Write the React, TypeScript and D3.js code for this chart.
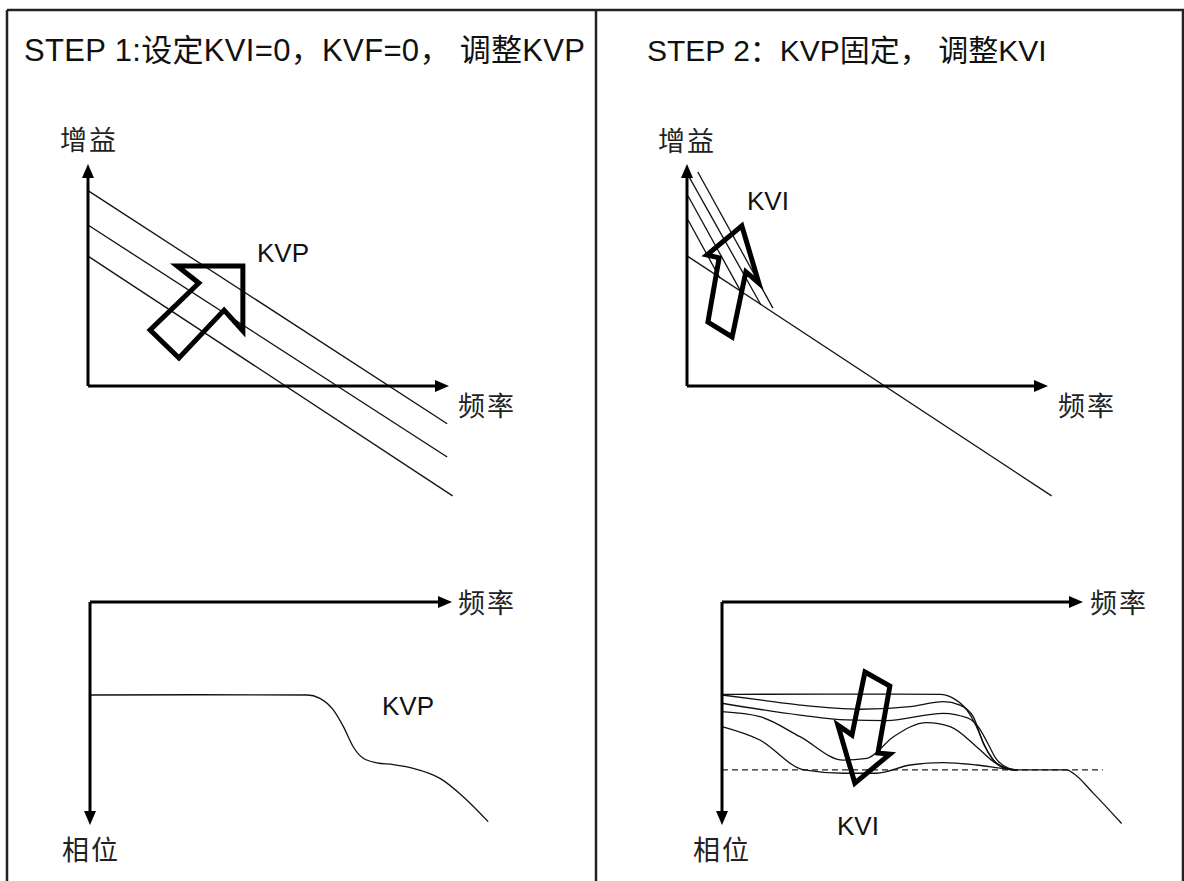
import React from 'react';
import * as d3 from 'd3';

type Pt = [number, number];

// ---- STEP 1: gain (freq, gain) ----
const kvpGainLines: Pt[][] = [
  [[0, 88], [99.5, -17]],
  [[0, 72.5], [99.5, -32]],
  [[0, 58.5], [101, -49.5]],
];
const kvpGainArrow: Pt[] = [
  [24.7, 54.1], [42.9, 54.1], [42.9, 24.8], [37.7, 34.2],
  [25.2, 12.6], [17.2, 25.2], [30.7, 46.4],
];

// ---- STEP 1: phase (freq, phase lag) ----
const kvpPhase: Pt[] = [
  [0, 41.7], [30, 41.6], [60, 41.7], [63.5, 43.2], [67.2, 48.4], [70, 55.9],
  [72.7, 64.9], [75.5, 70.1], [79.2, 72.1], [83.8, 72.9], [89.3, 74.6],
  [96.7, 79.1], [103.1, 87.3], [110, 98.5],
];

// ---- STEP 2: gain ----
const kviBaseGain: Pt[] = [[0, 58.6], [101, -49.5]];
const kviGainLines: Pt[][] = [
  [[3, 96.4], [23.8, 35.1]],
  [[0.3, 95], [20.5, 36.5]],
  [[0.3, 85.6], [15, 42.3]],
  [[0.3, 74.8], [9.1, 48.6]],
];
const kviGainArrow: Pt[] = [
  [15.2, 72.1], [19.9, 46.4], [16.3, 51.4], [12.5, 22.1],
  [5.8, 28.8], [8.9, 57.7], [5.5, 59.0],
];

// ---- STEP 2: phase ----
const kviPhaseLines: Pt[][] = [
  [[0, 41.4], [30, 41.3], [60.4, 41.4], [64.1, 43.2], [67.8, 48.4], [70.5, 55.9],
    [72.9, 64.9], [75.2, 70.9], [78.9, 74.6], [81, 75.3]],
  [[0, 41.7], [10.5, 43.9], [21.6, 46.2], [38.2, 48.1], [52.1, 46.9], [61.3, 44.7],
    [65.9, 46.2], [69.6, 51.4], [72.4, 63.4], [75.2, 70.9], [78.9, 74.9], [81, 75.3]],
  [[0, 45.4], [21.6, 50.7], [34.5, 52.9], [45.6, 53.2], [61.3, 49.9], [68, 52],
    [71, 56], [73.5, 63], [76, 70.5], [79.5, 74.6], [81.5, 75.3]],
  [[0, 49.2], [10.5, 51.4], [21.6, 60.4], [33.6, 70.9], [40.1, 70.1], [47.5, 60.4],
    [56.7, 54.1], [63.2, 55.9], [70.5, 64.9], [75.2, 71.6], [79.5, 75], [82, 75.3]],
  [[0, 55.9], [10.5, 61.9], [22.7, 75.3], [33.6, 76.8], [42.8, 76.8], [52.1, 73.1],
    [61.3, 72.0], [70.5, 73.1], [78.9, 74.9], [82, 75.3]],
];
const kviPhaseTail: Pt[] = [[81, 75.3], [88, 75.3], [95.5, 75.3], [97.3, 76.8], [102.9, 85.8], [110.7, 99.3]];
const kviPhaseRef: Pt[] = [[0, 75.3], [105.5, 75.3]];
const kviPhaseArrow: Pt[] = [
  [39.6, 31.4], [46.5, 37.7], [43.2, 67.7], [46.5, 68.2],
  [36.8, 81.2], [32.1, 55.2], [36.0, 59.6],
];

const FONT = "'Liberation Sans', Arial, 'Noto Sans CJK SC', sans-serif";

function Axes({ x, y, dir }: { x: any; y: any; dir: 'up' | 'down' }) {
  const x0 = x(0), y0 = y(0), x1 = x(100), y1 = y(100);
  const L = 14, hw = 6;
  const s = dir === 'up' ? 1 : -1;
  return (
    <g>
      <line x1={x0} y1={y0} x2={x1 - L + 2} y2={y0} stroke="#000" strokeWidth={3} />
      <line x1={x0} y1={y0} x2={x0} y2={y1 + s * (L - 2)} stroke="#000" strokeWidth={3} />
      <path d={`M${x1},${y0}L${x1 - L},${y0 - hw}L${x1 - L},${y0 + hw}Z`} fill="#000" />
      <path d={`M${x0},${y1}L${x0 - hw},${y1 + s * L}L${x0 + hw},${y1 + s * L}Z`} fill="#000" />
    </g>
  );
}

export default function App() {
  const gainY = d3.scaleLinear().domain([0, 100]).range([386, 164]);
  const phaseY = d3.scaleLinear().domain([0, 100]).range([602, 825]);
  const gx1 = d3.scaleLinear().domain([0, 100]).range([88, 449]);
  const gx2 = d3.scaleLinear().domain([0, 100]).range([687, 1048]);
  const px1 = d3.scaleLinear().domain([0, 100]).range([90, 452]);
  const px2 = d3.scaleLinear().domain([0, 100]).range([722, 1083]);

  const straight = (x: any, y: any) => d3.line<Pt>().x(d => x(d[0])).y(d => y(d[1]));
  const smooth = (x: any, y: any) =>
    d3.line<Pt>().x(d => x(d[0])).y(d => y(d[1])).curve(d3.curveMonotoneX);
  const poly = (x: any, y: any, pts: Pt[]) =>
    'M' + pts.map(d => `${x(d[0])},${y(d[1])}`).join('L') + 'Z';

  const thin = { fill: 'none', stroke: '#111', strokeWidth: 1.3 };
  const arrowStyle = { fill: 'none', stroke: '#000', strokeWidth: 5, strokeLinejoin: 'miter' as const };
  const title = { fontFamily: FONT, fontSize: 31, fill: '#111' };
  const lab = { fontFamily: FONT, fontSize: 27, fill: '#222', letterSpacing: 2 };
  const kv = { fontFamily: FONT, fontSize: 26, fill: '#111' };

  return (
    <svg width={1184} height={881} style={{ position: 'absolute', left: 0, top: 0, background: '#fff' }}>
      {/* frame */}
      <g stroke="#222" strokeWidth={2.5}>
        <line x1={7} y1={10} x2={1184} y2={10} />
        <line x1={7} y1={10} x2={7} y2={881} />
        <line x1={596} y1={10} x2={596} y2={881} />
        <line x1={1183} y1={10} x2={1183} y2={881} />
      </g>

      <text x={24} y={61} style={title} textLength={561} lengthAdjust="spacing">STEP 1:设定KVI=0，KVF=0， 调整KVP</text>
      <text x={647} y={61} style={{ ...title, fontSize: 30 }}>STEP 2：KVP固定， 调整KVI</text>

      {/* STEP 1 gain */}
      {kvpGainLines.map((l, i) => <path key={i} d={straight(gx1, gainY)(l) || ''} {...thin} />)}
      <Axes x={gx1} y={gainY} dir="up" />
      <path d={poly(gx1, gainY, kvpGainArrow)} {...arrowStyle} />
      <text x={60} y={150} style={lab}>增益</text>
      <text x={458} y={416} style={lab}>频率</text>
      <text x={257} y={262} style={kv}>KVP</text>

      {/* STEP 1 phase */}
      <path d={smooth(px1, phaseY)(kvpPhase) || ''} {...thin} />
      <Axes x={px1} y={phaseY} dir="down" />
      <text x={458} y={613} style={lab}>频率</text>
      <text x={62} y={860} style={lab}>相位</text>
      <text x={382} y={715} style={kv}>KVP</text>

      {/* STEP 2 gain */}
      <path d={straight(gx2, gainY)(kviBaseGain) || ''} {...thin} />
      {kviGainLines.map((l, i) => <path key={i} d={straight(gx2, gainY)(l) || ''} {...thin} />)}
      <Axes x={gx2} y={gainY} dir="up" />
      <path d={poly(gx2, gainY, kviGainArrow)} {...arrowStyle} />
      <text x={658} y={151} style={lab}>增益</text>
      <text x={1058} y={416} style={lab}>频率</text>
      <text x={747} y={210} style={kv}>KVI</text>

      {/* STEP 2 phase */}
      <path d={straight(px2, phaseY)(kviPhaseRef) || ''} fill="none" stroke="#222" strokeWidth={1.3} strokeDasharray="6,4" />
      {kviPhaseLines.map((l, i) => <path key={i} d={smooth(px2, phaseY)(l) || ''} {...thin} />)}
      <path d={smooth(px2, phaseY)(kviPhaseTail) || ''} {...thin} />
      <Axes x={px2} y={phaseY} dir="down" />
      <path d={poly(px2, phaseY, kviPhaseArrow)} {...arrowStyle} />
      <text x={1090} y={613} style={lab}>频率</text>
      <text x={693} y={860} style={lab}>相位</text>
      <text x={837} y={835} style={kv}>KVI</text>
    </svg>
  );
}
